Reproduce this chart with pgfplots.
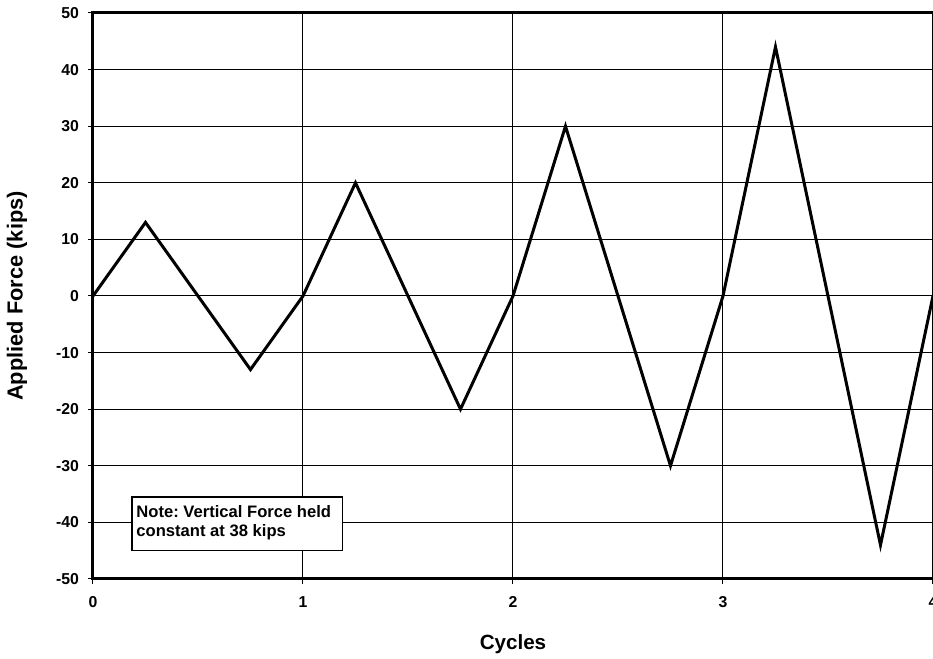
\documentclass[border=0pt]{standalone}
\usepackage{pgfplots}
\pgfplotsset{compat=1.18}
\usepackage{fontspec}
\setmainfont{Liberation Sans}
\frenchspacing
\begin{document}
\begin{tikzpicture}
\begin{axis}[
  scale only axis,
  width=420pt, height=283pt,
  xmin=0, xmax=4, ymin=-50, ymax=50,
  xtick={0,1,2,3,4}, ytick={-50,-40,...,50},
  grid=major,
  major grid style={black, line width=0.5pt},
  axis line style={line width=0.6pt},
  tick align=outside, xtick pos=left, ytick pos=left,
  major tick length=2.5pt,
  tick style={black, line width=0.5pt},
  /pgf/number format/assume math mode=true,
  ticklabel style={font=\bfseries\fontsize{7.9}{9}\selectfont},
  yticklabel style={xshift=-1pt},
  xticklabel style={yshift=-2pt, text height=6pt, text depth=0pt},
  xlabel={Cycles}, ylabel={Applied Force (kips)},
  xlabel style={at={(axis description cs:0.5,-0.1148)}, anchor=center, font=\bfseries\fontsize{10.3}{12}\selectfont},
  ylabel style={at={(axis description cs:-0.0905,0.5)}, anchor=center, font=\bfseries\fontsize{10.9}{12}\selectfont},
  clip=false,
]
\addplot[black, line width=1.5pt] coordinates {
 (0,0) (0.25,13) (0.75,-13) (1,0) (1.25,20) (1.75,-20) (2,0)
 (2.25,30) (2.75,-30) (3,0) (3.25,44) (3.75,-44) (4,0)};
\draw[line width=1.5pt, line cap=rect] (rel axis cs:0,0) -- (rel axis cs:1,0);
\draw[line width=1.5pt, line cap=rect] (rel axis cs:0,0) -- (rel axis cs:0,1) -- (rel axis cs:1,1);
\draw[black, line width=0.6pt, fill=white] (axis cs:0.186,-35.5) rectangle (axis cs:1.19,-44.9);
\node[anchor=north west, align=left, inner sep=0pt, font=\bfseries\fontsize{8.3}{9.5}\selectfont]
  at (axis cs:0.205,-37.0) {Note: Vertical Force held\\constant at 38 kips};
\end{axis}
\pgfresetboundingbox
\useasboundingbox (-46.5pt,-40pt) rectangle (420pt,289.5pt);
\end{tikzpicture}
\end{document}
